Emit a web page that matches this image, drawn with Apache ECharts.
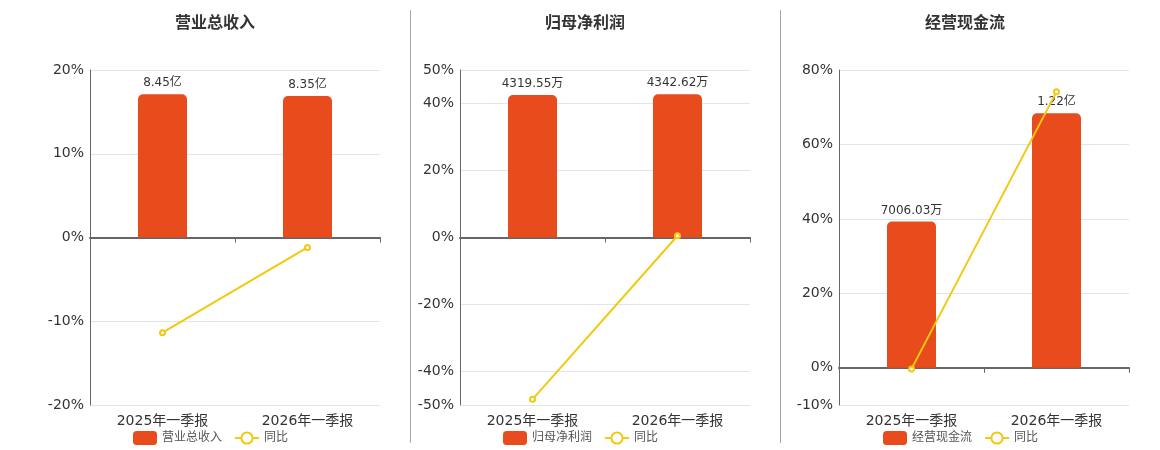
<!DOCTYPE html>
<html><head><meta charset="utf-8">
<script src="https://cdn.jsdelivr.net/npm/echarts@6/dist/echarts.min.js"></script>
<style>html,body{margin:0;padding:0;background:#fff}#c{width:1160px;height:450px}</style>
</head><body><div id="c"></div>
<script>
const categories = ['2025年一季报', '2026年一季报'];
const titles = ['营业总收入', '归母净利润', '经营现金流'];
const revenueValues = [8.45e8, 8.35e8];
const revenueYoY = [-11.36, -1.18];
const profitValues = [4319.55e4, 4342.62e4];
const profitYoY = [-48.3, 0.53];
const cashValues = [7006.03e4, 1.22e8];
const cashYoY = [-0.3, 74.13];
const pctTicks1 = [-20, -10, 0, 10, 20];
const pctTicks2 = [-50, -40, -20, 0, 20, 40, 50];
const pctTicks3 = [-10, 0, 20, 40, 60, 80];

const panels = [
  {title: titles[0], bars: revenueValues, yoy: revenueYoY, ticks: pctTicks1, left: 90, cx: 210},
  {title: titles[1], bars: profitValues, yoy: profitYoY, ticks: pctTicks2, left: 460, cx: 580},
  {title: titles[2], bars: cashValues, yoy: cashYoY, ticks: pctTicks3, left: 839, cx: 960}
];
const FONT = 'DejaVu Sans, Noto Sans CJK SC, sans-serif';
const BAR = '#E84C1D', LINE = '#F2C811';
function fmt(v){ return v >= 1e8 ? (v/1e8).toFixed(2)+'亿' : (v/1e4).toFixed(2)+'万'; }

const option = {animation:false, textStyle:{fontFamily:FONT}, title:[], legend:[], grid:[], xAxis:[], yAxis:[], series:[], graphic:[]};
panels.forEach((p, i) => {
  const pmin = Math.min(...p.ticks), pmax = Math.max(...p.ticks);
  const step = 10;
  const n = Math.round((pmax - pmin)/step);
  const colors = [];
  for (let k = 0; k <= n; k++) colors.push(p.ticks.includes(pmin + k*step) ? '#E0E4F0' : 'rgba(0,0,0,0)');
  const bmax = Math.max(...p.bars) * 1.17;
  const bmin = bmax * pmin / pmax;
  option.title.push({text: p.title, left: p.cx, top: 11, textAlign: 'center',
    textStyle:{fontSize:16, fontWeight:'bold', color:'#333', fontFamily:FONT}});
  option.legend.push({data:[p.title, '同比'], left: p.cx - 82, top: 426,
    itemWidth:24, itemHeight:14, itemGap:12, textStyle:{fontSize:12, color:'#555', fontFamily:FONT}});
  option.grid.push({left: p.left, top: 70, width: 290, height: 335});
  option.xAxis.push({type:'category', gridIndex:i, data:categories, position:'bottom',
    axisLine:{onZero:true, lineStyle:{color:'#666', width:2}}, axisTick:{show:true, lineStyle:{color:'#666'}},
    axisLabel:{show:false}, splitLine:{show:false}});
  option.xAxis.push({type:'category', gridIndex:i, data:categories, position:'bottom',
    axisLine:{show:false}, axisTick:{show:false},
    axisLabel:{show:true, fontSize:14, color:'#333', margin:9, fontFamily:FONT}});
  option.yAxis.push({type:'value', gridIndex:i, min:pmin, max:pmax, interval:step,
    axisLine:{show:true, lineStyle:{color:'#666'}}, axisTick:{show:false},
    axisLabel:{fontSize:14, color:'#333', margin:6, fontFamily:FONT,
      formatter: v => p.ticks.includes(v) ? v + '%' : ''},
    splitLine:{show:true, lineStyle:{color:colors}}});
  option.yAxis.push({type:'value', gridIndex:i, min:bmin, max:bmax, show:false, splitLine:{show:false}});
  option.series.push({name:p.title, type:'bar', xAxisIndex:2*i, yAxisIndex:2*i+1, data:p.bars,
    barWidth:49, itemStyle:{color:BAR, borderRadius:[5,5,0,0]},
    label:{show:true, position:'top', distance:5, fontSize:12, color:'#333', fontFamily:FONT, formatter: d => fmt(d.value)}});
  option.series.push({name:'同比', type:'line', xAxisIndex:2*i, yAxisIndex:2*i, data:p.yoy,
    symbol:'emptyCircle', symbolSize:5, lineStyle:{color:LINE, width:2}, itemStyle:{color:LINE, borderWidth:1.5}, z:5});
});
option.graphic = [
  {type:'line', shape:{x1:410.5, y1:10, x2:410.5, y2:443}, style:{stroke:'#A8A8A0', lineWidth:1}},
  {type:'line', shape:{x1:780.5, y1:10, x2:780.5, y2:443}, style:{stroke:'#A8A8A0', lineWidth:1}}
];
const chart = echarts.init(document.getElementById('c'), null, {renderer:'canvas'});
chart.setOption(option);
</script></body></html>
